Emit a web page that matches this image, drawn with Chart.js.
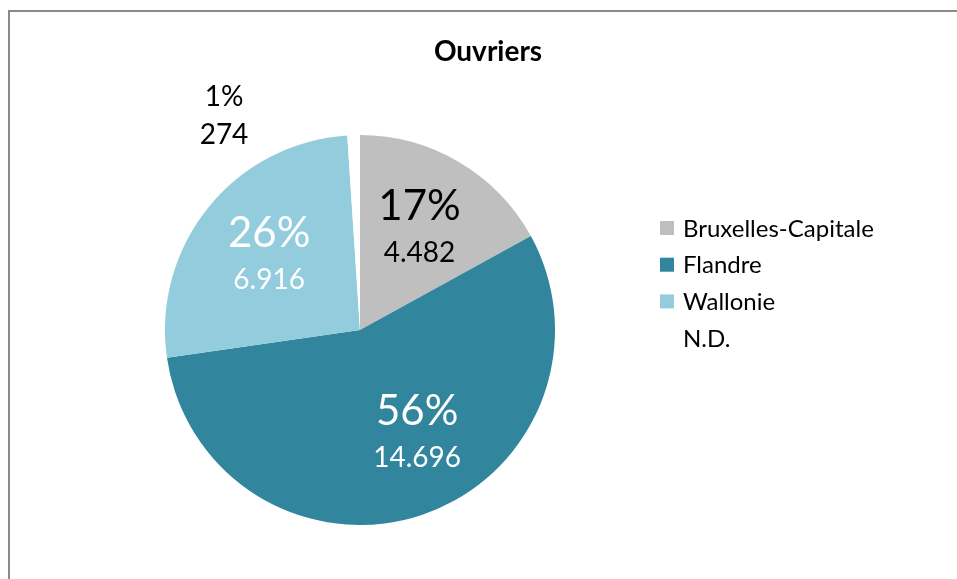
<!DOCTYPE html>
<html>
<head>
<meta charset="utf-8">
<script src="https://cdn.jsdelivr.net/npm/chart.js@4"></script>
<style>
    body { margin: 0; background: #fff; overflow: hidden; }
    #frame {
        position: absolute; left: 8px; top: 10px; width: 960px; height: 580px;
        border-left: 2px solid #8a8a8a; border-top: 2px solid #8a8a8a;
    }
    #myChart { position: absolute; left: 0; top: 0; }
</style>
</head>
<body>
<div id="frame"></div>
<canvas id="myChart" width="957" height="579"></canvas>
<script>
const labels = ['Bruxelles-Capitale', 'Flandre', 'Wallonie', 'N.D.'];
const values = [4482, 14696, 6916, 274];
const colors = ['#bfbfbf', '#31859c', '#93cddd', '#ffffff'];
const textColors = ['#000000', '#ffffff', '#ffffff', '#000000'];

const fontFamily = 'Lato, "Open Sans", sans-serif';

function fmt(v) {
    return String(v).replace(/\B(?=(\d{3})+(?!\d))/g, '.');
}

// title, legend and slice labels drawn by hand
const pieText = {
    id: 'pieText',
    afterDraw(chart, args, opts) {
        const c = chart.ctx;
        const meta = chart.getDatasetMeta(0);
        const total = values.reduce((a, b) => a + b, 0);
        c.save();
        c.textAlign = 'center';
        c.textBaseline = 'middle';

        // title
        c.fillStyle = '#000';
        c.font = 'bold 28px ' + fontFamily;
        c.fillText('Ouvriers', 488, 52);

        // slice labels
        meta.data.forEach((arc, i) => {
            const p = arc.getProps(['x', 'y', 'startAngle', 'endAngle', 'outerRadius'], true);
            const mid = (p.startAngle + p.endAngle) / 2;
            const shift = opts.shift[i] || [0, 0];
            let x, y;
            if (opts.outside[i]) {
                x = p.x + shift[0];
                y = p.y + shift[1];
            } else {
                const r = p.outerRadius * 0.6;
                x = p.x + Math.cos(mid) * r + shift[0];
                y = p.y + Math.sin(mid) * r + shift[1];
            }
            const pct = Math.round(values[i] / total * 100) + '%';
            c.fillStyle = textColors[i];
            if (opts.outside[i]) {
                c.font = '28px ' + fontFamily;
                c.fillText(pct, x, y - 19);
                c.fillText(fmt(values[i]), x, y + 19);
            } else {
                c.font = '42px ' + fontFamily;
                c.fillText(pct, x, y - 23);
                c.font = '28px ' + fontFamily;
                c.fillText(fmt(values[i]), x, y + 24);
            }
        });

        // legend
        c.textAlign = 'left';
        c.font = '24px ' + fontFamily;
        labels.forEach((lab, i) => {
            const y = 228 + i * 36.7;
            c.fillStyle = colors[i];
            c.fillRect(660, y - 7, 14, 14);
            c.fillStyle = '#000';
            c.fillText(lab, 683, y + 1);
        });
        c.restore();
    }
};

new Chart(document.getElementById('myChart'), {
    type: 'pie',
    data: {
        labels: labels,
        datasets: [{
            data: values,
            backgroundColor: colors,
            borderWidth: 0,
            hoverOffset: 0
        }]
    },
    options: {
        responsive: false,
        animation: false,
        layout: { padding: { left: 165, right: 402, top: 135, bottom: 54 } },
        plugins: {
            legend: { display: false },
            title: { display: false },
            tooltip: { enabled: false },
            pieText: {
                outside: [false, false, false, true],
                shift: [[0, 0], [20, -7], [0, 0], [-136, -214]]
            }
        }
    },
    plugins: [pieText]
});
</script>
</body>
</html>
